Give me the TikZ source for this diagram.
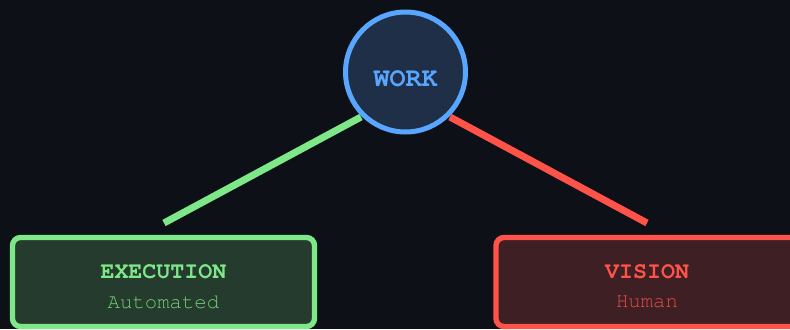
\documentclass[tikz,border=0pt]{standalone}
\usepackage{fontspec}
\setmonofont{TeX Gyre Cursor}
\usetikzlibrary{positioning}

\definecolor{bgdark}{HTML}{0D1117}
\definecolor{workblue}{HTML}{58A6FF}
\definecolor{workfill}{HTML}{1F2F48}
\definecolor{execgreen}{HTML}{7EE787}
\definecolor{execfill}{HTML}{253B2D}
\definecolor{visred}{HTML}{FF5349}
\definecolor{visfill}{HTML}{3E1F23}

\tikzset{
  hub/.style={circle, draw=workblue, fill=workfill, line width=3.75pt,
    minimum size=90pt, inner sep=0pt, text=workblue,
    text height=21pt, text depth=0pt,
    font=\ttfamily\bfseries\fontsize{20}{22}\selectfont},
  leaf/.style={rectangle, rounded corners=6pt, line width=4pt,
    minimum width=226.5pt, minimum height=66.75pt, inner sep=0pt},
  leaftitle/.style={inner sep=0pt, font=\ttfamily\bfseries\fontsize{17.5}{20}\selectfont},
  leafsub/.style={inner sep=0pt, font=\ttfamily\fontsize{15.5}{18}\selectfont},
  link/.style={line width=5.25pt}
}

\begin{document}
\begin{tikzpicture}[x=0.75pt,y=-0.75pt]
  % \draw[help lines] (0,0) grid (790,329);
  \fill[bgdark] (0,0) rectangle (790,329);
  \useasboundingbox (0,0) rectangle (790,329);
  \clip (0,0) rectangle (790,329);

  \coordinate (gtop) at (361,117);
  \coordinate (gend) at (164,223);
  \coordinate (rtop) at (450,117);
  \coordinate (rend) at (647,223);

  \draw[link, execgreen] (gtop) -- (gend);
  \draw[link, visred] (rtop) -- (rend);

  \node[hub] (work) at (405.5,72) {WORK};

  \node[leaf, draw=execgreen, fill=execfill] (execution) at (163.5,282) {};
  \node[leaftitle, text=execgreen] (exectitle) at ([yshift=7.5pt]execution.center) {EXECUTION};
  \node[leafsub, text=execgreen!85!execfill] (execsub) at ([yshift=-15pt]execution.center) {Automated};

  \node[leaf, draw=visred, fill=visfill] (vision) at (647,282) {};
  \node[leaftitle, text=visred] (vistitle) at ([yshift=7.5pt]vision.center) {VISION};
  \node[leafsub, text=visred!85!visfill] (vissub) at ([yshift=-15pt]vision.center) {Human};
\end{tikzpicture}
\end{document}
